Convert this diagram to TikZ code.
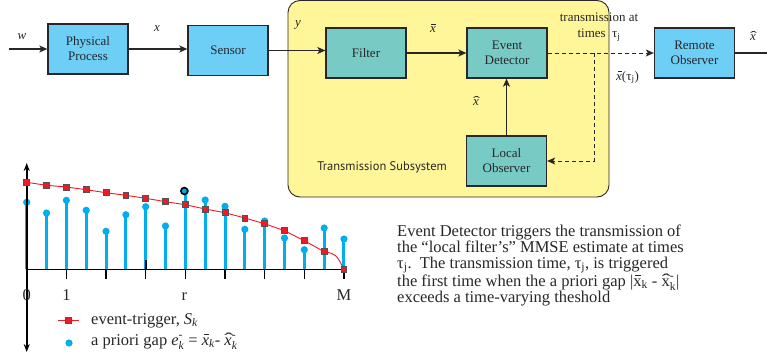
\documentclass[tikz,border=0pt]{standalone}
\usepackage{fontspec}
\usepackage{amsmath}
\setmainfont{Liberation Serif}
\newfontfamily\sansf{PT Sans}
\usetikzlibrary{arrows.meta}
\definecolor{boxblue}{RGB}{109,207,246}
\definecolor{boxteal}{RGB}{120,203,197}
\definecolor{yel}{RGB}{255,246,153}
\definecolor{edge}{RGB}{40,38,40}
\definecolor{stemblue}{RGB}{0,174,239}
\definecolor{trigred}{RGB}{237,28,36}
% x with bar / hat, argument: font switch (\itshape or \upshape)
\newcommand\xbr[1]{{\ooalign{{#1x}\cr\hidewidth\kern0.08em\raisebox{0.58em}{\rule{0.32em}{0.075em}}\hidewidth\cr}}}
\newcommand\xht[1]{{\ooalign{{#1x}\cr\hidewidth\kern0.08em\raisebox{0.02em}{\upshape\scalebox{1.6}[1]{ˆ}}\hidewidth\cr}}}
\tikzset{
  blk/.style={draw=edge, line width=1.3pt, minimum width=80pt, minimum height=50pt,
    inner sep=0pt, align=center, font=\fontsize{13}{15}\selectfont, text=edge},
  arr/.style={line width=1.4pt, draw=edge, -{Stealth[length=8pt,width=7pt,inset=2pt]}},
  dsh/.style={line width=1pt, draw=edge, dash pattern=on 4pt off 3pt},
  lbl/.style={font=\fontsize{13}{15}\selectfont, text=edge, inner sep=0pt},
  stem/.style={line width=3pt, draw=stemblue},
  axisln/.style={line width=1.6pt, draw=black},
  sqm/.style={fill=trigred, draw=edge!80, line width=0.8pt},
  redln/.style={draw=trigred, line width=0.9pt},
  big/.style={font=\fontsize{16.5}{16}\selectfont, text=edge, inner sep=0pt},
}
\begin{document}
\begin{tikzpicture}[x=1pt,y=-1pt]
\useasboundingbox (0,0) rectangle (767,362);
% transmission subsystem
\draw[fill=yel, draw=edge, line width=0.9pt, rounded corners=12pt] (288,0.5) rectangle (609,197);
\node[lbl, font=\sansf\fontsize{12.5}{14}\selectfont] (tsub) at (382,167) {Transmission Subsystem};
% blocks
\node[blk, fill=boxblue] (pp) at (88,49) {Physical\\Process};
\node[blk, fill=boxblue] (sen) at (228,50.5) {Sensor};
\node[blk, fill=boxteal] (fil) at (366,53) {Filter};
\node[blk, fill=boxteal] (ed) at (507,53) {Event\\Detector};
\node[blk, fill=boxteal] (lo) at (506.5,161) {Local\\Observer};
\node[blk, fill=boxblue] (ro) at (694.5,53) {Remote\\Observer};
\coordinate (win) at (9,49);
\coordinate (rout) at (767,53);
\coordinate (dj) at (594,53);
% connectors
\draw[arr] (win) -- (pp.west);
\draw[arr] (pp.east) -- (pp.east -| sen.west);
\draw[arr] (sen.east) -- (sen.east -| fil.west);
\draw[arr] (fil) -- (ed);
\draw[arr] (lo.north) -- (lo.north |- ed.south);
\draw[dsh, -{Stealth[length=8pt,width=7pt,inset=2pt]}] (ed.east) -- (ro.west);
\draw[dsh, -{Stealth[length=8pt,width=7pt,inset=2pt]}] (dj) |- (lo.east);
\draw[line width=1.4pt, draw=edge] (ro.east) -- (rout);
% labels
\node[lbl] (lw) at (22,37) {\textit{w}};
\node[lbl] (lx) at (157,29) {\textit{x}};
\node[lbl] (ly) at (298,25) {\textit{y}};
\node[lbl] (lxb) at (433,30) {\xbr\itshape};
\node[lbl] (lxh) at (476,103) {\xht\itshape};
\node[lbl] (lxh2) at (753,38) {\xht\itshape};
\node[lbl, align=center, font=\fontsize{13}{16}\selectfont] (ltr) at (599,27) {transmission at\\times~~τ\textsubscript{j}};
\node[lbl, anchor=base west] (lxt) at (616,80) {\xbr\itshape(τ\textsubscript{j})};
% plot
\foreach \yv [count=\i from 0] in {202.3,213,200.3,210.3,231.3,214.7,206.7,226,191,200,206.3,229.3,221,238,249.7,228,239}{
  \draw[stem] ({26.7+19.83*\i},269.3) -- ({26.7+19.83*\i},\yv);
  \fill[stemblue] ({26.7+19.83*\i},\yv) circle (3.6);
}
\draw[line width=1.6pt, draw=black, fill=stemblue] (184.3,191) circle (3.4);
\draw[axisln, {Stealth[length=8pt,width=6pt]}-{Stealth[length=8pt,width=6pt]}] (26.7,163) -- (26.7,352);
\draw[axisln] (26.7,269.3) -- (345,269.3);
\foreach \i in {0,2,...,16}{
  \draw[axisln] ({26.7+19.83*\i},269.3) -- ({26.7+19.83*\i},279);
}
\draw[axisln] (145.7,260) -- (145.7,269.3);
\draw[redln] (26.7,182.3) \foreach \yv [count=\i from 1] in {185.3,187,189.7,192.7,195.3,198.3,201.7,204.7,209,212.7,218,223.7,230.7,240.7,251.7}{ -- ({26.7+19.83*\i},\yv) } .. controls (336,254) .. (344,269.3);
\foreach \yv [count=\i from 0] in {182.3,185.3,187,189.7,192.7,195.3,198.3,201.7,204.7,209,212.7,218,223.7,230.7,240.7,251.7,269.3}{
  \filldraw[sqm] ({26.7+19.83*\i-2.9},{\yv-2.9}) rectangle ++(5.8,5.8);
}
\node[big, anchor=base] (l0) at (26.7,300) {0};
\node[big, anchor=base] (l1) at (66.4,300) {1};
\node[big, anchor=base] (lr) at (184.3,300) {r};
\node[big, anchor=base] (lM) at (344,300) {M};
% legend
\draw[redln] (58,320) -- (79,320);
\filldraw[sqm] (65.6,317.1) rectangle ++(5.8,5.8);
\node[big, anchor=base west] (leg1) at (91,324) {event-trigger, \textit{S}$_{\textit{k}}$};
\fill[stemblue] (69,343) circle (3.6);
\node[big, anchor=base west] (leg2) at (91,345) {a priori gap \textit{e}$_{\textit{k}}^{\text{-}}$ = \xbr\itshape$_{\textit{k}}$- \xht\itshape$_{\textit{k}}^{\text{-}}$};
% description
\node[big, anchor=base west, align=left] (desc) at (397,302) {Event Detector triggers the transmission of\\
the “local filter’s” MMSE estimate at times\\
τ\textsubscript{j}.\ \ The transmission time, τ\textsubscript{j}, is triggered\\
the first time when the a priori gap |\xbr\upshape\textsubscript{k} - \xht\upshape$_{\text{k}}^{\text{-}}$|\\
exceeds a time-varying theshold};
\end{tikzpicture}
\end{document}
